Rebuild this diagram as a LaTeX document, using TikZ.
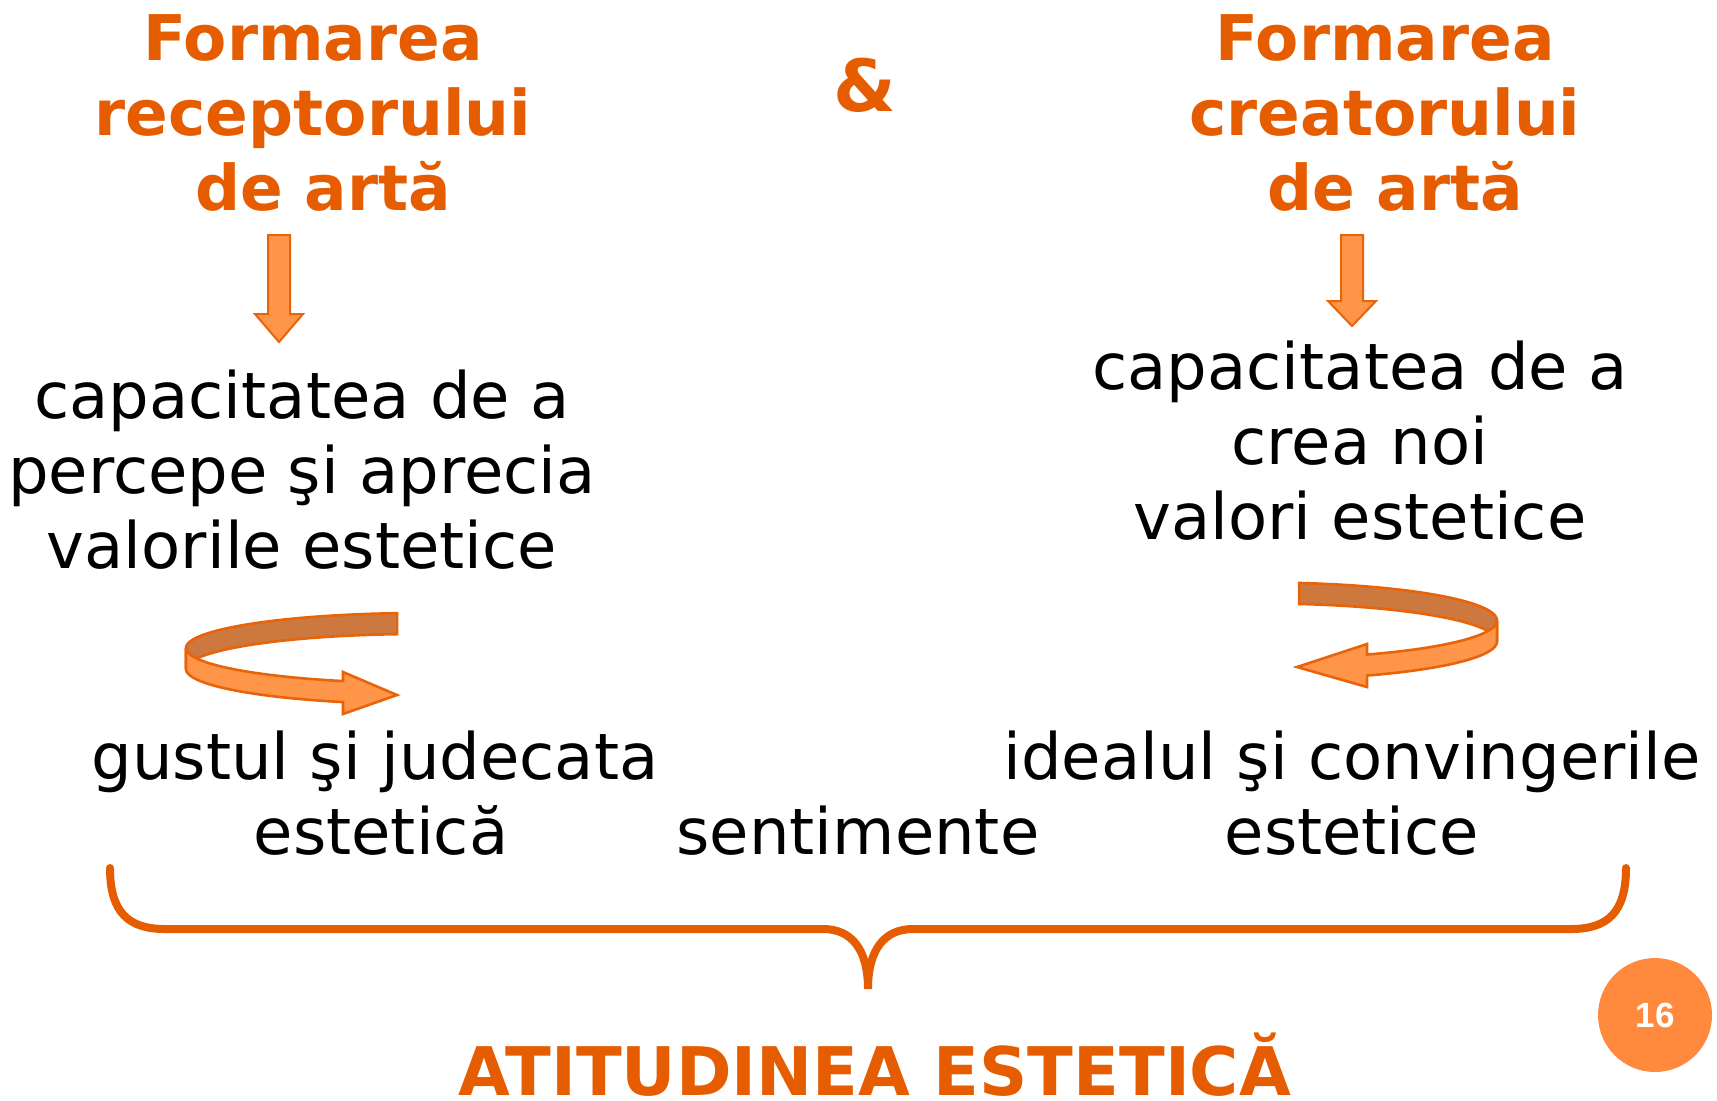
\documentclass[tikz,border=0pt]{standalone}
\usepackage{fontspec}
\setmainfont{DejaVu Sans}
\newfontfamily\numfont{Liberation Sans}
\usetikzlibrary{calc}
\definecolor{ttl}{RGB}{230,92,0}
\definecolor{edge}{RGB}{232,100,10}
\definecolor{lightor}{RGB}{255,149,72}
\definecolor{darkor}{RGB}{204,120,62}
\definecolor{circ}{RGB}{255,138,61}
\begin{document}
\begin{tikzpicture}[x=0.5pt,y=-0.5pt,
  title/.style={font=\fontsize{31.5}{37.5}\selectfont\bfseries, text=ttl, align=center, inner sep=0},
  body/.style={font=\fontsize{32}{37.5}\selectfont, align=center, inner sep=0},
  fatarrow/.style={draw=edge, fill=lightor, line width=1pt, line join=miter},
  ribback/.style={draw=edge, fill=darkor, line width=1.3pt, line join=miter},
  ribfront/.style={draw=edge, fill=lightor, line width=1.3pt, line join=miter},
  bracestyle/.style={draw=ttl, line width=4pt, line cap=round}]
\useasboundingbox (0,0) rectangle (1717,1100);

% texts (anchor base = baseline of last line)
\node[title, anchor=base] (t1) at (313,210) {Formarea\\receptorului\\\hspace*{10pt}de artă};
\node[title, anchor=base] (t2) at (1385,210) {Formarea\\creatorului\\\hspace*{10pt}de artă};
\node[font=\fontsize{36}{36}\selectfont\bfseries, text=ttl, inner sep=0] (amp) at (865,85) {\&};
\node[body, anchor=base] (c1) at (302,568) {capacitatea de a\\percepe şi aprecia\\valorile estetice};
\node[body, anchor=base] (c2) at (1360,539) {capacitatea de a\\crea noi\\valori estetice};
\node[body, anchor=base] (g1) at (375,854) {gustul şi judecata\\\hspace*{6pt}estetică};
\node[body, anchor=base] (s) at (858,854) {sentimente};
\node[body, anchor=base] (g2) at (1352,854) {idealul şi convingerile\\estetice};
\node[title, anchor=base, font=\fontsize{33.5}{37.5}\selectfont\bfseries] (att) at (875,1095) {ATITUDINEA ESTETICĂ};
\node[circle, fill=circ, minimum size=57pt, inner sep=0, text=white,
      font=\numfont\fontsize{17.5}{17.5}\selectfont\bfseries] (pg) at (1655,1015) {16};

% straight arrows
\coordinate (la) at (279,235);
\coordinate (ra) at (1352,235);
\draw[fatarrow] (la) ++(-11,0) -- ++(22,0) -- ++(0,79) -- ++(13,0) -- (279,342) -- ++(-24,-28) -- ++(13,0) -- cycle;
\draw[fatarrow] (ra) ++(-11,0) -- ++(22,0) -- ++(0,66) -- ++(13,0) -- (1352,326) -- ++(-24,-25) -- ++(13,0) -- cycle;

% left ribbon arrow
\draw[ribback] plot[domain=264.4:180, samples=50] ({420+234*cos(\x)},{648+35*sin(\x)})
  -- plot[domain=180:264.4, samples=50] ({420+234*cos(\x)},{669+35*sin(\x)}) -- cycle;
\draw[ribfront] plot[domain=180:109.2, samples=50] ({420+234*cos(\x)},{648+35*sin(\x)})
  -- (343,672) -- (397,695) -- (343,714)
  -- plot[domain=109.2:180, samples=50] ({420+234*cos(\x)},{669+35*sin(\x)}) -- cycle;

% right ribbon arrow
\draw[ribback] plot[domain=278.9:360, samples=50] ({1263+234*cos(\x)},{620.5+38*sin(\x)})
  -- plot[domain=360:278.9, samples=50] ({1263+234*cos(\x)},{641.5+38*sin(\x)}) -- cycle;
\draw[ribfront] plot[domain=0:63.6, samples=50] ({1263+234*cos(\x)},{620.5+38*sin(\x)})
  -- (1367,644) -- (1297,667) -- (1367,687)
  -- plot[domain=63.6:0, samples=50] ({1263+234*cos(\x)},{641.5+38*sin(\x)}) -- cycle;

% brace
\draw[bracestyle] (110,868) .. controls (110,912) and (128,929) .. (165,929)
  -- (823,929) .. controls (852,929) and (868,950) .. (868,989)
  .. controls (868,950) and (884,929) .. (913,929)
  -- (1571,929) .. controls (1608,929) and (1626,912) .. (1626,868);
\end{tikzpicture}
\end{document}
